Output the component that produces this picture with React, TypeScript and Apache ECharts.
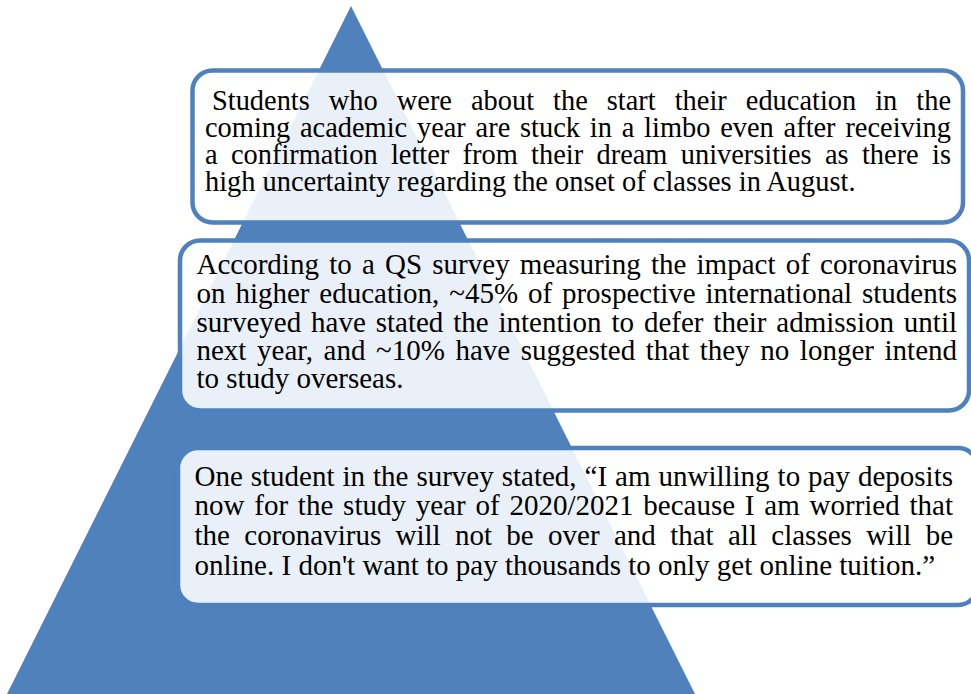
import React, { useEffect, useRef } from 'react';
import * as echarts from 'echarts';

const box1Lines: string[] = [
  'Students who were about the start their education in the',
  'coming academic year are stuck in a limbo even after receiving',
  'a confirmation letter from their dream universities as there is',
  'high uncertainty regarding the onset of classes in August.',
];

const box2Lines: string[] = [
  'According to a QS survey measuring the impact of coronavirus',
  'on higher education, ~45% of prospective international students',
  'surveyed have stated the intention to defer their admission until',
  'next year, and ~10% have suggested that they no longer intend',
  'to study overseas.',
];

const box3Lines: string[] = [
  'One student in the survey stated, \u201CI am unwilling to pay deposits',
  'now for the study year of 2020/2021 because I am worried that',
  'the coronavirus will not be over and that all classes will be',
  'online. I don\'t want to pay thousands to only get online tuition.\u201D',
];

const BLUE = '#4F81BD';
const FONT_FAMILY = "'Liberation Serif', 'Times New Roman', serif";

type BoxLayout = {
  lines: string[];
  rect: { x: number; y: number; w: number; h: number };
  fontSize: number;
  left: number;
  firstLeft: number;
  right: number;
  baselines: number[];
};

const boxes: BoxLayout[] = [
  {
    lines: box1Lines,
    rect: { x: 192.5, y: 70.5, w: 770.5, h: 152 },
    fontSize: 28.4,
    left: 205,
    firstLeft: 212,
    right: 951,
    baselines: [110, 137.5, 164.5, 191.5],
  },
  {
    lines: box2Lines,
    rect: { x: 180, y: 240.5, w: 789, h: 170 },
    fontSize: 29,
    left: 196.5,
    firstLeft: 196.5,
    right: 957,
    baselines: [274, 303, 332, 360, 388],
  },
  {
    lines: box3Lines,
    rect: { x: 178, y: 448, w: 800, h: 157 },
    fontSize: 29,
    left: 194.5,
    firstLeft: 194.5,
    right: 953,
    baselines: [486, 515, 545, 575],
  },
];

function buildGraphics(): any[] {
  const canvas = document.createElement('canvas');
  const ctx = canvas.getContext('2d') as CanvasRenderingContext2D;
  const els: any[] = [];
  els.push({
    type: 'polygon',
    shape: { points: [[351, 6], [7, 694], [695, 694]] },
    style: { fill: BLUE },
    silent: true,
  });
  const textEl = (text: string, x: number, baseline: number, fs: number) => ({
    type: 'text',
    x,
    y: baseline - fs * 0.34,
    style: {
      text,
      fill: '#000',
      font: `${fs}px ${FONT_FAMILY}`,
      lineHeight: 22,
      align: 'left',
      verticalAlign: 'middle',
    },
    silent: true,
  });
  boxes.forEach((b) => {
    ctx.font = `${b.fontSize}px ${FONT_FAMILY}`;
    els.push({
      type: 'rect',
      shape: { x: b.rect.x, y: b.rect.y, width: b.rect.w, height: b.rect.h, r: 20 },
      style: { fill: 'rgba(255,255,255,0.88)', stroke: BLUE, lineWidth: 4.5 },
      silent: true,
    });
    b.lines.forEach((line, i) => {
      const left = i === 0 ? b.firstLeft : b.left;
      const isLast = i === b.lines.length - 1;
      if (isLast) {
        els.push(textEl(line, left, b.baselines[i], b.fontSize));
        return;
      }
      const words = line.split(' ');
      const widths = words.map((w) => ctx.measureText(w).width);
      const total = widths.reduce((a, c) => a + c, 0);
      const gap = (b.right - left - total) / (words.length - 1);
      let x = left;
      words.forEach((w, k) => {
        els.push(textEl(w, x, b.baselines[i], b.fontSize));
        x += widths[k] + gap;
      });
    });
  });
  return els;
}

export default function App() {
  const ref = useRef<HTMLDivElement>(null);
  useEffect(() => {
    document.body.style.margin = '0';
    if (!ref.current) return;
    const chart = echarts.init(ref.current, null, { renderer: 'svg' });
    chart.setOption({
      animation: false,
      backgroundColor: '#ffffff',
      graphic: { elements: buildGraphics() },
    });
    return () => chart.dispose();
  }, []);
  return <div ref={ref} style={{ width: 971, height: 694 }} />;
}
